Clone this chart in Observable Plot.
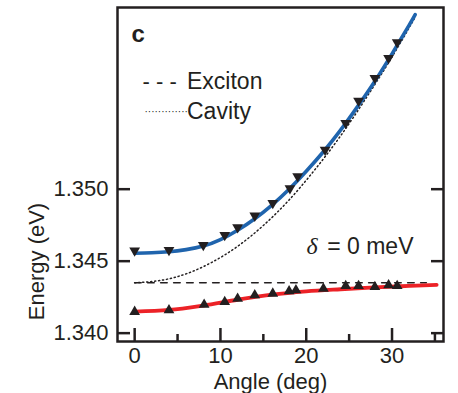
<!DOCTYPE html>
<html>
<head>
<meta charset="utf-8">
<script src="https://cdn.jsdelivr.net/npm/d3@7"></script>
<script src="https://cdn.jsdelivr.net/npm/@observablehq/plot@0.6"></script>
<style>
  body { margin: 0; background: #fff; }
</style>
</head>
<body>
<div id="chart"></div>
<script>
// ---- data ----
// Upper polariton measurements (down triangles)
const upperAngle  = [0, 4.0, 8.0, 10.5, 12.0, 14.0, 16.1, 18.1, 19.0, 22.2, 24.6, 26.1, 28.0, 29.6, 30.6];
const upperEnergy = [1.34574, 1.34577, 1.34612, 1.34681, 1.34735, 1.34816, 1.34904, 1.35006, 1.35089, 1.35274, 1.35459, 1.35614, 1.35772, 1.35911, 1.36020];
// Lower polariton measurements (up triangles)
const lowerAngle  = [0, 4.0, 8.1, 10.5, 12.0, 14.0, 16.1, 18.0, 18.8, 22.0, 24.6, 26.1, 28.0, 29.6, 30.6];
const lowerEnergy = [1.34148, 1.34159, 1.34198, 1.34217, 1.34240, 1.34264, 1.34275, 1.34291, 1.34298, 1.34309, 1.34328, 1.34328, 1.34321, 1.34333, 1.34328];
// Upper polariton fit (blue)
const upperFitAngle  = [0, 2, 4, 6, 8, 10, 12, 14, 16, 18, 20, 22, 24, 26, 28, 30, 32, 32.7];
const upperFitEnergy = [1.34555, 1.34558, 1.34565, 1.34580, 1.34605, 1.34650, 1.34715, 1.34795, 1.34890, 1.35000, 1.35125, 1.35260, 1.35410, 1.35575, 1.35750, 1.35940, 1.36140, 1.36213];
// Lower polariton fit (red)
const lowerFitAngle  = [0, 4, 8, 12, 16, 20, 24, 28, 32, 35.2];
const lowerFitEnergy = [1.34150, 1.34161, 1.34192, 1.34232, 1.34267, 1.34290, 1.34305, 1.34318, 1.34328, 1.34336];
// Cavity (dotted)
const cavityAngle  = [0, 3, 6, 9, 12, 15, 18, 21, 24, 27, 30, 32.7];
const cavityEnergy = [1.34350, 1.34366, 1.34412, 1.34492, 1.34603, 1.34748, 1.34925, 1.35135, 1.35370, 1.35635, 1.35918, 1.36195];
// Exciton (dashed)
const excitonAngle  = [0, 34];
const excitonEnergy = [1.34350, 1.34350];
// ticks
const yTicks = [1.340, 1.345, 1.350];
const xMajor = [0, 10, 20, 30];
const xMinor = [5, 15, 25, 35];
// texts
const panelLabel = "c";
const legendDash = "- - -";
const legendDots = "··············";
const legendExciton = "Exciton";
const legendCavity = "Cavity";
const deltaSymbol = "δ";
const deltaText = "= 0 meV";
const xLabel = "Angle (deg)";
const yLabel = "Energy (eV)";

// ---- styling ----
const ink = "#231f20";
const blue = "#1f64ad";
const red = "#ec2227";
const sans = "'Liberation Sans', Arial, Helvetica, sans-serif";

const triangleDown = {
  draw(context, size) {
    const y = Math.sqrt(size / (Math.sqrt(3) * 3));
    context.moveTo(0, 2 * y);
    context.lineTo(Math.sqrt(3) * y, -y);
    context.lineTo(-Math.sqrt(3) * y, -y);
    context.closePath();
  }
};

const chart = Plot.plot({
  width: 458,
  height: 393,
  marginLeft: 117,
  marginRight: 15,
  marginTop: 7,
  marginBottom: 52,
  x: {domain: [-2, 36]},
  y: {domain: [1.33942, 1.36262]},
  style: {fontFamily: sans, fontSize: "22px", color: ink, background: "#fff"},
  marks: [
    // axes: labels + inward ticks
    Plot.axisY(yTicks, {anchor: "left", tickSize: 0, tickPadding: 9, tickFormat: d3.format(".3f"), label: null, fontSize: 22, fill: ink}),
    Plot.axisY(yTicks, {anchor: "left", tickSize: -13, fill: "none", label: null, stroke: ink, strokeWidth: 2.5}),
    Plot.axisY(yTicks, {anchor: "right", tickSize: -13, fill: "none", label: null, stroke: ink, strokeWidth: 2.5}),
    Plot.axisX(xMajor, {anchor: "bottom", tickSize: 0, tickPadding: 6, tickFormat: d => String(d), label: null, fontSize: 22, fill: ink}),
    Plot.axisX(xMajor, {anchor: "bottom", tickSize: -13, fill: "none", label: null, stroke: ink, strokeWidth: 2.5}),
    Plot.axisX(xMinor, {anchor: "bottom", tickSize: -7, fill: "none", label: null, stroke: ink, strokeWidth: 2.5}),

    // reference lines
    Plot.line(excitonAngle, {x: excitonAngle, y: excitonEnergy, stroke: ink, strokeWidth: 1.6, strokeDasharray: "6.5,6.5"}),
    Plot.line(cavityAngle, {x: cavityAngle, y: cavityEnergy, stroke: ink, strokeWidth: 1.5, strokeDasharray: "1.2,2.8", curve: "natural"}),

    // polariton fits
    Plot.line(lowerFitAngle, {x: lowerFitAngle, y: lowerFitEnergy, stroke: red, strokeWidth: 3.8, curve: "monotone-x"}),
    Plot.line(upperFitAngle, {x: upperFitAngle, y: upperFitEnergy, stroke: blue, strokeWidth: 3.6, curve: "natural"}),

    // measurements
    Plot.dot(lowerAngle, {x: lowerAngle, y: lowerEnergy, symbol: "triangle", r: 4, fill: ink, stroke: "none"}),
    Plot.dot(upperAngle, {x: upperAngle, y: upperEnergy, symbol: triangleDown, r: 4, fill: ink, stroke: "none"}),

    // panel label and legend
    Plot.text([panelLabel], {text: d => d, frameAnchor: "top-left", dx: 14, dy: 34.7, lineAnchor: "bottom", textAnchor: "start", fontSize: 24, fontWeight: 900, fill: ink}),
    Plot.text([legendDash], {text: d => d, frameAnchor: "top-left", dx: 25, dy: 81.3, lineAnchor: "bottom", textAnchor: "start", fontSize: 22, fill: ink}),
    Plot.text([legendExciton], {text: d => d, frameAnchor: "top-left", dx: 69.5, dy: 81.3, lineAnchor: "bottom", textAnchor: "start", fontSize: 23, fill: ink}),
    Plot.text([legendDots], {text: d => d, frameAnchor: "top-left", dx: 27, dy: 107, lineAnchor: "bottom", textAnchor: "start", fontSize: 10, fill: ink}),
    Plot.text([legendCavity], {text: d => d, frameAnchor: "top-left", dx: 69.5, dy: 111.3, lineAnchor: "bottom", textAnchor: "start", fontSize: 23, fill: ink}),

    // detuning annotation
    Plot.text([deltaSymbol], {text: d => d, frameAnchor: "top-left", dx: 189, dy: 246.3, lineAnchor: "bottom", textAnchor: "start", fontSize: 24, fontStyle: "italic", fontFamily: "'Liberation Serif', 'DejaVu Serif', serif", fill: ink}),
    Plot.text([deltaText], {text: d => d, frameAnchor: "top-right", dx: -30, dy: 246.3, lineAnchor: "bottom", textAnchor: "end", fontSize: 23, fill: ink}),

    // axis titles
    Plot.text([xLabel], {text: d => d, frameAnchor: "bottom", dx: -10, dy: 47, lineAnchor: "bottom", textAnchor: "middle", fontSize: 22, fill: ink}),
    Plot.text([yLabel], {text: d => d, frameAnchor: "left", dx: -74, dy: 87, rotate: -90, lineAnchor: "bottom", textAnchor: "middle", fontSize: 22, fill: ink}),

    Plot.frame({stroke: ink, strokeWidth: 2.5})
  ]
});
document.getElementById("chart").appendChild(chart);
</script>
</body>
</html>
